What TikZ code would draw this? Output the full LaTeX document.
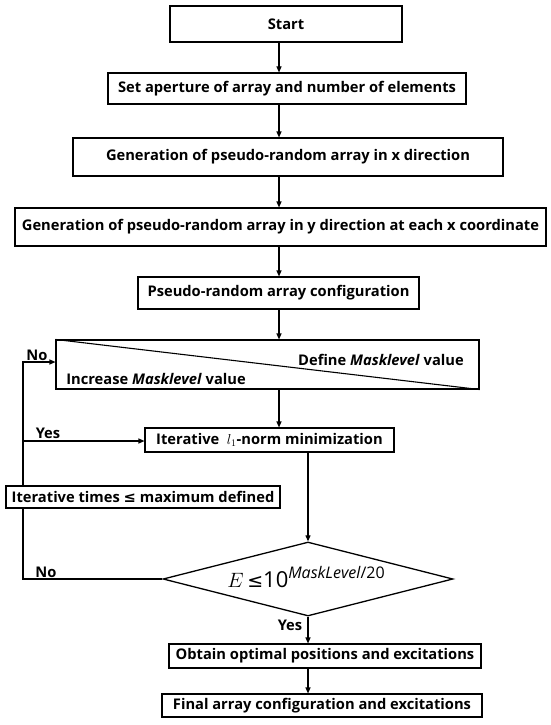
\documentclass[tikz,border=0pt]{standalone}
\usepackage{fontspec}
\setmainfont{Open Sans}
\newfontfamily\symfont{DejaVu Sans}
\usepackage{tikz}
\usetikzlibrary{arrows.meta,positioning,shapes.geometric,calc}
\tikzset{
  box/.style={rectangle, draw=black, fill=white, line width=1.1pt,
              align=center, inner sep=2pt, font=\fontsize{14.7}{17}\selectfont\bfseries},
  decbox/.style={diamond, draw=black, line width=1.3pt, inner sep=0pt,
                 minimum width=290pt, minimum height=74pt},
  lbl/.style={font=\fontsize{14.7}{17}\selectfont\bfseries, inner sep=0pt},
  flow/.style={-{Triangle[length=6pt,width=5pt]}, line width=1.1pt},
  wire/.style={line width=1.1pt}
}

\begin{document}
\begin{tikzpicture}[x=1pt, y=-1pt]
  \useasboundingbox (0,0) rectangle (550,725);
  % main column
  \node[box, minimum width=232pt, minimum height=36pt] (start) at (286,24) {Start};
  \node[box, minimum width=358pt, minimum height=31pt] (set) at (287,88.5)
    {Set aperture of array and number of elements};
  \node[box, minimum width=430pt, minimum height=38pt] (genx) at (288,157)
    {Generation of pseudo-random array in x direction};
  \node[box, minimum width=531pt, minimum height=38pt] (geny) at (280.5,227)
    {Generation of pseudo-random array in y direction at each x coordinate};
  \node[box, minimum width=281pt, minimum height=32pt] (pseudo) at (278.5,293)
    {Pseudo-random array configuration};
  \node[box, minimum width=423pt, minimum height=49pt] (mask) at (267.5,364.5) {};
  \draw[wire] (mask.north west) -- (mask.south east);
  \node[lbl] (def) at (381,360) {Define \textit{Masklevel} value};
  \node[lbl] (inc) at (156,379) {Increase \textit{Masklevel} value};
  \node[box, minimum width=249pt, minimum height=24pt] (iter) at (269.5,440)
    {Iterative~ $l_{1}$-norm minimization};
  \node[box, minimum width=274pt, minimum height=22pt] (itt) at (143,497)
    {Iterative times {\symfont\bfseries ≤} maximum defined};
  \node[decbox] (dec) at (308,579) {};
  \node[inner sep=0pt, font=\fontsize{22}{24}\selectfont] (eq) at (306,577)
    {$E$\,{\symfont\fontsize{19}{22}\selectfont ≤}10\raisebox{9pt}{\fontsize{16}{16}\selectfont$\mathit{MaskLevel}$/20}};
  \node[box, minimum width=312pt, minimum height=24pt] (obtain) at (325,656)
    {Obtain optimal positions and excitations};
  \node[box, minimum width=320pt, minimum height=23pt] (final) at (322,705.5)
    {Final array configuration and excitations};

  % connectors
  \coordinate (ax) at (279,0);
  \foreach \a/\b in {start/set,set/genx,genx/geny,geny/pseudo,pseudo/mask,mask/iter}
    \draw[flow] (\a.south -| ax) -- (\b.north -| ax);
  \coordinate (bx) at (308,0);
  \draw[flow] (iter.south -| bx) -- (dec.north);
  \draw[flow] (dec.south) -- (obtain.north -| dec.south);
  \draw[flow] (obtain.south -| dec.south) -- (final.north -| dec.south);

  % loop on the left
  \coordinate (lt) at (23,362);
  \coordinate (lb) at (23,579);
  \coordinate (ly) at (23,441);
  \draw[wire] (dec.west) -- (lb) -- (lb |- itt.south);
  \draw[flow] (lb |- itt.north) -- (lt) -- (lt -| mask.west);
  \draw[flow] (ly) -- (ly -| iter.west);
  \node[lbl] (no1) at (37,355) {No};
  \node[lbl] (yes1) at (48,433) {Yes};
  \node[lbl] (no2) at (46,572) {No};
  \node[lbl] (yes2) at (290,625) {Yes};
\end{tikzpicture}
\end{document}
